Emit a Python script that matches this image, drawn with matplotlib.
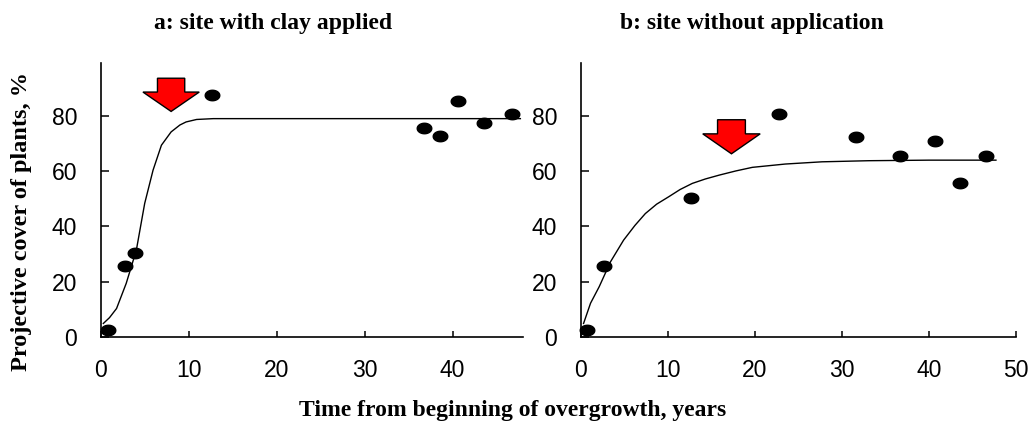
import numpy as np
import matplotlib.pyplot as plt
from matplotlib.path import Path as MPath
from matplotlib.patches import Polygon

# site a: clay applied
a_years = [0.8, 2.8, 3.9, 12.7, 36.7, 38.6, 40.6, 43.6, 46.7]
a_cover = [2.5, 25.5, 30.3, 87.4, 75.4, 72.6, 85.2, 77.3, 80.5]
a_fit_x = [0.3, 1.0, 1.8, 2.9, 4.05, 5.0, 5.95, 6.9, 8.0, 9.0, 9.7, 10.9, 12.8, 20.0, 30.0, 40.0, 47.7]
a_fit_y = [4.9, 7.0, 10.3, 19.4, 31.4, 48.3, 60.3, 69.3, 74.1, 76.6, 77.7, 78.6, 78.9, 78.9, 78.9, 78.9, 78.9]

# site b: without application
b_years = [0.7, 2.7, 12.7, 22.8, 31.6, 36.7, 40.7, 43.6, 46.6]
b_cover = [2.5, 25.6, 50.3, 80.7, 72.3, 65.5, 70.8, 55.5, 65.5]
b_fit_x = [0.3, 1.1, 2.1, 3.4, 4.9, 6.2, 7.4, 8.7, 10.1, 11.4, 12.8, 14.3, 15.9, 17.8, 19.7, 23.5, 27.7, 33.1, 40.0, 47.7]
b_fit_y = [4.9, 12.2, 18.2, 27.2, 35.0, 40.3, 44.6, 48.0, 50.7, 53.3, 55.5, 57.1, 58.5, 60.0, 61.3, 62.5, 63.3, 63.7, 63.9, 63.9]

serif = ["Liberation Serif", "DejaVu Serif"]
sans = ["Liberation Sans", "DejaVu Sans"]

# squashed ellipse marker like the original dots
t = np.linspace(0, 2 * np.pi, 40)
ellipse = MPath(np.column_stack([np.cos(t), 0.72 * np.sin(t)]), closed=True)


def down_arrow(ax, x, tip, head_top, top, head_hw, shaft_hw):
    pts = [
        (x - shaft_hw, top), (x + shaft_hw, top), (x + shaft_hw, head_top),
        (x + head_hw, head_top), (x, tip), (x - head_hw, head_top),
        (x - shaft_hw, head_top),
    ]
    ax.add_patch(Polygon(pts, closed=True, facecolor="#ff0000",
                         edgecolor="black", linewidth=1.0, zorder=4))


def style_axes(ax, xmax, xticks):
    ax.set_xlim(0, xmax)
    ax.set_ylim(0, 99)
    ax.set_xticks(xticks)
    ax.set_yticks([0, 20, 40, 60, 80])
    for s in ["top", "right"]:
        ax.spines[s].set_visible(False)
    for s in ["left", "bottom"]:
        ax.spines[s].set_linewidth(1.2)
    ax.tick_params(axis="x", direction="in", length=4, width=1.1, pad=16)
    ax.tick_params(axis="y", direction="in", length=6, width=1.1, pad=17)
    for lab in ax.get_xticklabels() + ax.get_yticklabels():
        lab.set_family(sans)
        lab.set_fontsize(16.5)


fig = plt.figure(figsize=(10.33, 4.22), dpi=100)
ax1 = fig.add_axes([0.0975, 0.2014, 0.4088, 0.6493])
ax2 = fig.add_axes([0.5624, 0.2014, 0.4211, 0.6493])

ax1.plot(a_fit_x, a_fit_y, color="black", lw=1.0)
ax1.plot(a_years, a_cover, linestyle="none", marker=ellipse, ms=10.5,
         color="black", clip_on=False, zorder=3)
style_axes(ax1, 48, [0, 10, 20, 30, 40])
down_arrow(ax1, 8.0, 81.5, 88.5, 93.5, 3.2, 1.55)

ax2.plot(b_fit_x, b_fit_y, color="black", lw=1.0)
ax2.plot(b_years, b_cover, linestyle="none", marker=ellipse, ms=10.5,
         color="black", clip_on=False, zorder=3)
style_axes(ax2, 50, [0, 10, 20, 30, 40, 50])
down_arrow(ax2, 17.3, 66.2, 73.4, 78.5, 3.3, 1.6)

fig.text(0.264, 0.945, "a: site with clay applied", ha="center", va="center",
         family=serif, fontweight="bold", fontsize=17)
fig.text(0.728, 0.945, "b: site without application", ha="center", va="center",
         family=serif, fontweight="bold", fontsize=17)
fig.text(0.4966, 0.027, "Time from beginning of overgrowth, years", ha="center",
         va="center", family=serif, fontweight="bold", fontsize=17)
fig.text(0.021, 0.476, "Projective cover of plants, %", ha="center", va="center",
         rotation=90, family=serif, fontweight="bold", fontsize=17.5)

fig.savefig("out.png", dpi=100)
